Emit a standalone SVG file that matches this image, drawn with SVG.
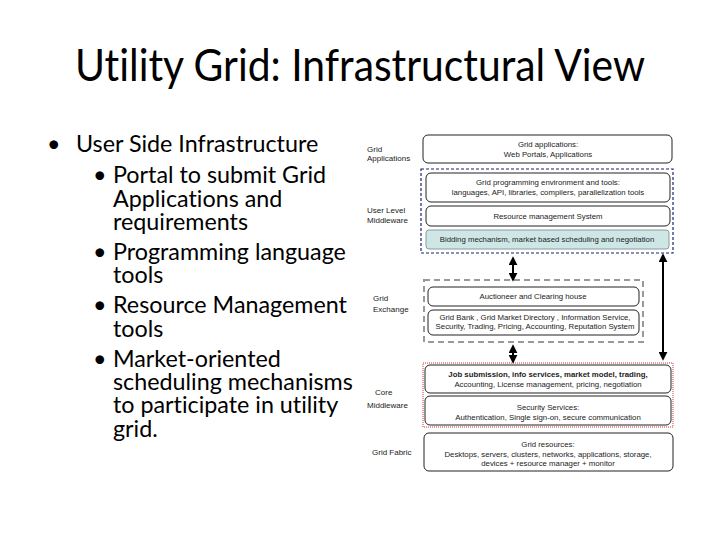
<svg xmlns="http://www.w3.org/2000/svg" width="720" height="540" viewBox="0 0 720 540">
<defs>
<style>
.title{font-family:Lato,"Liberation Sans",sans-serif;font-size:44px;fill:#000;font-variant-ligatures:none}
.b{font-family:Lato,"Liberation Sans",sans-serif;font-size:23.3px;fill:#000;font-variant-ligatures:none}
.lab{font-family:"Liberation Sans",Arial,sans-serif;font-size:8px;fill:#222}
.t{font-family:"Liberation Sans",Arial,sans-serif;font-size:7.8px;fill:#222;text-anchor:middle}
.box{fill:#fff;stroke:#222;stroke-width:1}
.arr{stroke:#000;stroke-width:2;fill:none}
</style>
<marker id="ah" viewBox="0 0 10 10" refX="8" refY="5" markerWidth="4.5" markerHeight="4.5" orient="auto-start-reverse">
<path d="M0,0 L10,5 L0,10 z" fill="#000"/>
</marker>
</defs>
<rect width="720" height="540" fill="#fff"/>
<text class="title" x="360" y="81" text-anchor="middle" textLength="570" lengthAdjust="spacingAndGlyphs">Utility Grid: Infrastructural View</text>

<g id="bullets">
<text class="b" x="47" y="152">•</text>
<text class="b" x="76" y="152">User Side Infrastructure</text>
<text class="b" x="93" y="183">•</text>
<text class="b" x="113" y="183">Portal to submit Grid</text>
<text class="b" x="113" y="207">Applications and</text>
<text class="b" x="113" y="230">requirements</text>
<text class="b" x="93" y="260">•</text>
<text class="b" x="113" y="260">Programming language</text>
<text class="b" x="113" y="283">tools</text>
<text class="b" x="93" y="313">•</text>
<text class="b" x="113" y="313">Resource Management</text>
<text class="b" x="113" y="337">tools</text>
<text class="b" x="93" y="367">•</text>
<text class="b" x="113" y="367">Market-oriented</text>
<text class="b" x="113" y="390">scheduling mechanisms</text>
<text class="b" x="113" y="413">to participate in utility</text>
<text class="b" x="113" y="437">grid.</text>
</g>

<g id="layer-labels">
<text class="lab" x="367" y="152">Grid</text>
<text class="lab" x="367" y="161">Applications</text>
<text class="lab" x="367" y="213">User Level</text>
<text class="lab" x="367" y="223">Middleware</text>
<text class="lab" x="373" y="301">Grid</text>
<text class="lab" x="373" y="312">Exchange</text>
<text class="lab" x="375" y="395">Core</text>
<text class="lab" x="367" y="408">Middleware</text>
<text class="lab" x="372" y="455">Grid Fabric</text>
</g>

<g id="grid-applications">
<rect class="box" x="423" y="135" width="249" height="28" rx="5"/>
<text class="t" x="548" y="147">Grid applications:</text>
<text class="t" x="548" y="157">Web Portals, Applications</text>
</g>

<g id="user-level-middleware">
<rect x="421" y="169" width="252" height="84" fill="none" stroke="#1a2372" stroke-width="1.2" stroke-dasharray="3,2"/>
<g id="prog-env">
<rect class="box" x="426" y="173" width="244" height="29" rx="5"/>
<text class="t" x="548" y="185">Grid programming environment and tools:</text>
<text class="t" x="548" y="195">languages, API, libraries, compilers, parallelization tools</text>
</g>
<g id="rms">
<rect class="box" x="426" y="206" width="244" height="20" rx="5"/>
<text class="t" x="548" y="219">Resource management System</text>
</g>
<g id="bidding">
<rect x="426" y="230" width="243" height="19" rx="3" fill="#cfe6e6" stroke="#8a9c9c" stroke-width="1"/>
<text class="t" x="547" y="242">Bidding mechanism, market based scheduling and negotiation</text>
</g>
</g>

<g id="grid-exchange">
<rect x="424" y="280" width="219" height="62" fill="none" stroke="#999" stroke-width="2" stroke-dasharray="6,4"/>
<g id="auctioneer">
<rect class="box" x="428" y="287" width="211" height="19" rx="5"/>
<text class="t" x="533" y="299">Auctioneer and Clearing house</text>
</g>
<g id="gridbank">
<rect class="box" x="428" y="310" width="211" height="25" rx="5"/>
<text class="t" x="535" y="320">Grid Bank , Grid Market Directory , Information Service,</text>
<text class="t" x="535" y="329">Security, Trading, Pricing, Accounting, Reputation System</text>
</g>
</g>

<g id="core-middleware">
<rect x="423" y="363" width="250" height="64" fill="none" stroke="#d43a3a" stroke-width="1" stroke-dasharray="1,1"/>
<g id="job">
<rect class="box" x="425" y="365" width="246" height="28" rx="5"/>
<text class="t" x="548" y="377" style="font-weight:600">Job submission, info services, market model, trading,</text>
<text class="t" x="548" y="387">Accounting, License management, pricing, negotiation</text>
</g>
<g id="security">
<rect class="box" x="425" y="396" width="246" height="29" rx="5"/>
<text class="t" x="548" y="410">Security Services:</text>
<text class="t" x="548" y="420">Authentication, Single sign-on, secure communication</text>
</g>
</g>

<g id="grid-fabric">
<rect class="box" x="424" y="433" width="249" height="38" rx="5"/>
<text class="t" x="548" y="447">Grid resources:</text>
<text class="t" x="548" y="457">Desktops, servers, clusters, networks, applications, storage,</text>
<text class="t" x="548" y="466">devices + resource manager + monitor</text>
</g>

<g id="connectors">
<line class="arr" x1="513" y1="258" x2="513" y2="280" marker-start="url(#ah)" marker-end="url(#ah)"/>
<line class="arr" x1="513" y1="346" x2="513" y2="362" marker-start="url(#ah)" marker-end="url(#ah)"/>
<line class="arr" x1="663" y1="255" x2="663" y2="359" marker-start="url(#ah)" marker-end="url(#ah)"/>
</g>
</svg>
